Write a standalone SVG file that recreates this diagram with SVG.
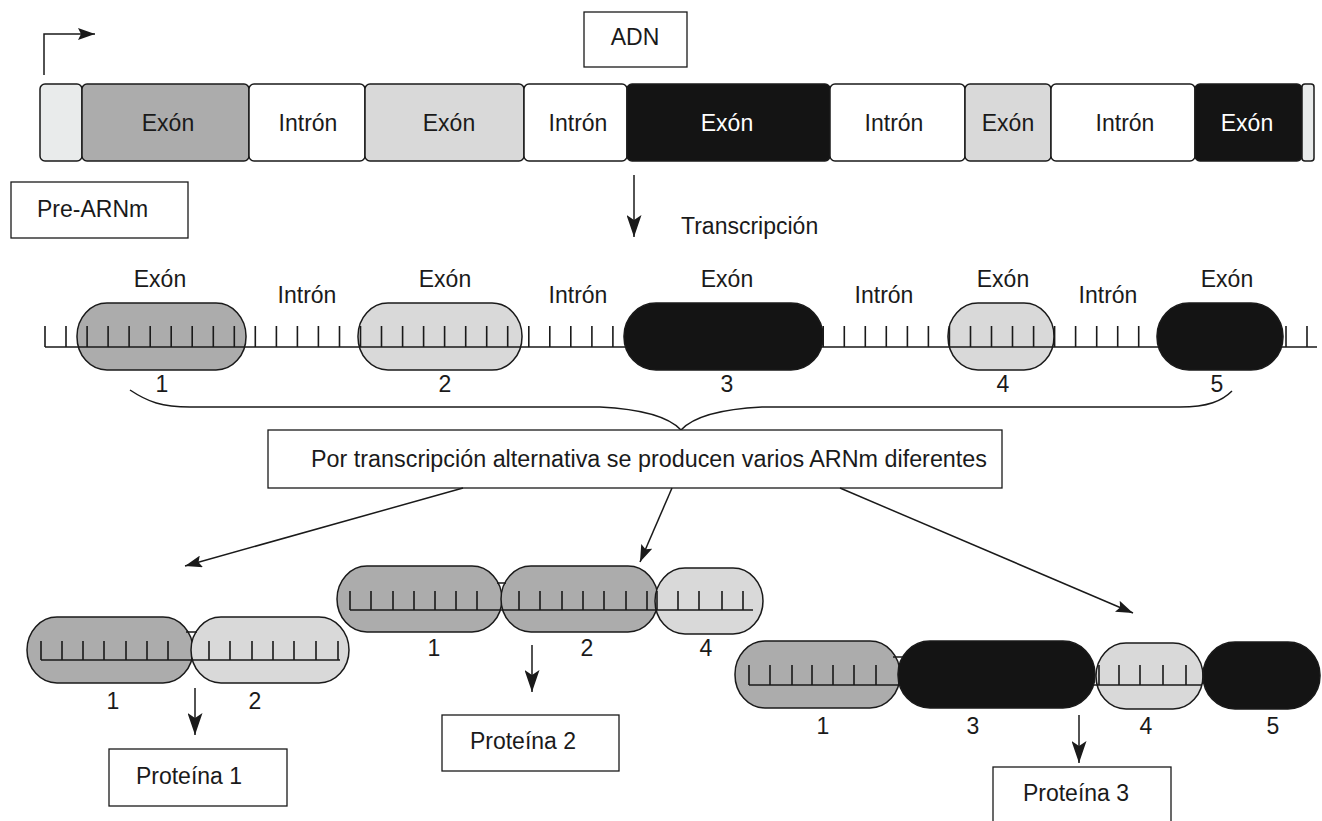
<svg xmlns="http://www.w3.org/2000/svg" width="1322" height="821" viewBox="0 0 1322 821">
<defs>
<style>
text{font-family:"Liberation Sans",Arial,sans-serif;font-size:23px;fill:#1a1a1a}
.w{fill:#ffffff}
.m{text-anchor:middle}
.seg{stroke:#1a1a1a;stroke-width:1.5}
.box{fill:#ffffff;stroke:#1a1a1a;stroke-width:1.3}
.cap{stroke:#1a1a1a;stroke-width:1.5}
.g1{fill:#acacac}
.g2{fill:#d9d9d9}
.bk{fill:#141414}
.wh{fill:#ffffff}
.pl{fill:#e9ebeb}
.tk{fill:none;stroke:#1a1a1a;stroke-width:1.6}
.ar{fill:none;stroke:#1a1a1a;stroke-width:1.5}
</style>
<marker id="ah" viewBox="0 0 22 15" markerWidth="22" markerHeight="15" refX="22" refY="7.5" orient="auto" markerUnits="userSpaceOnUse">
<path d="M0,0 L22,7.5 L0,15 L5,7.5 Z" fill="#1a1a1a"/>
</marker>
<marker id="ahs" viewBox="0 0 17 12" markerWidth="17" markerHeight="12" refX="17" refY="6" orient="auto" markerUnits="userSpaceOnUse">
<path d="M0,0 L17,6 L0,12 L3,6 Z" fill="#1a1a1a"/>
</marker>
</defs>
<rect width="1322" height="821" fill="#ffffff"/>

<g id="dna">
<rect class="seg pl" x="40" y="84" width="42" height="77" rx="5"/>
<rect class="seg g1" x="82" y="84" width="167" height="77" rx="5"/>
<rect class="seg wh" x="249" y="84" width="116" height="77" rx="5"/>
<rect class="seg g2" x="365" y="84" width="159" height="77" rx="5"/>
<rect class="seg wh" x="524" y="84" width="103" height="77" rx="5"/>
<rect class="seg bk" x="627" y="84" width="203" height="77" rx="5"/>
<rect class="seg wh" x="830" y="84" width="135" height="77" rx="5"/>
<rect class="seg g2" x="965" y="84" width="86" height="77" rx="5"/>
<rect class="seg wh" x="1051" y="84" width="144" height="77" rx="5"/>
<rect class="seg bk" x="1195" y="84" width="107" height="77" rx="5"/>
<rect class="seg pl" x="1302" y="84" width="12" height="77" rx="3"/>
<text class="m" x="168" y="131">Exón</text>
<text class="m" x="308" y="131">Intrón</text>
<text class="m" x="449" y="131">Exón</text>
<text class="m" x="578" y="131">Intrón</text>
<text class="m w" x="727" y="131">Exón</text>
<text class="m" x="894" y="131">Intrón</text>
<text class="m" x="1008" y="131">Exón</text>
<text class="m" x="1125" y="131">Intrón</text>
<text class="m w" x="1247" y="131">Exón</text>
</g>

<g id="adn-label">
<rect class="box" x="584" y="12" width="103" height="55"/>
<text class="m" x="635" y="45">ADN</text>
</g>

<g id="pre-arnm-label">
<rect class="box" x="11" y="182" width="177" height="56"/>
<text x="37" y="217">Pre-ARNm</text>
</g>

<g id="transcripcion-label">
<text x="681" y="234">Transcripción</text>
</g>

<g id="pre-mrna">
<rect class="cap g1" x="77" y="303" width="169" height="67" rx="30" ry="33"/>
<rect class="cap g2" x="358" y="303" width="164" height="67" rx="30" ry="33"/>
<rect class="cap g2" x="948" y="303" width="106" height="67" rx="30" ry="33"/>
<path class="tk" d="M45,347 H1317 M45,347V326 M66,347V326 M87.1,347V326 M108.1,347V326 M129.1,347V326 M150.2,347V326 M171.2,347V326 M192.2,347V326 M213.3,347V326 M234.3,347V326 M255.3,347V326 M276.4,347V326 M297.4,347V326 M318.4,347V326 M339.5,347V326 M360.5,347V326 M381.5,347V326 M402.6,347V326 M423.6,347V326 M444.6,347V326 M465.7,347V326 M486.7,347V326 M507.7,347V326 M528.8,347V326 M549.8,347V326 M570.8,347V326 M591.9,347V326 M612.9,347V326 M633.9,347V326 M655,347V326 M676,347V326 M697,347V326 M718.1,347V326 M739.1,347V326 M760.1,347V326 M781.2,347V326 M802.2,347V326 M823.2,347V326 M844.3,347V326 M865.3,347V326 M886.3,347V326 M907.4,347V326 M928.4,347V326 M949.4,347V326 M970.5,347V326 M991.5,347V326 M1012.5,347V326 M1033.6,347V326 M1054.6,347V326 M1075.6,347V326 M1096.7,347V326 M1117.7,347V326 M1138.7,347V326 M1159.8,347V326 M1180.8,347V326 M1201.8,347V326 M1222.9,347V326 M1243.9,347V326 M1264.9,347V326 M1286,347V326 M1307,347V326"/>
<rect class="cap bk" x="624" y="303" width="199" height="67" rx="32" ry="33"/>
<rect class="cap bk" x="1157" y="303" width="126" height="67" rx="32" ry="33"/>
<text class="m" x="160" y="287">Exón</text>
<text class="m" x="307" y="303">Intrón</text>
<text class="m" x="445" y="287">Exón</text>
<text class="m" x="578" y="303">Intrón</text>
<text class="m" x="727" y="287">Exón</text>
<text class="m" x="884" y="303">Intrón</text>
<text class="m" x="1003" y="287">Exón</text>
<text class="m" x="1108" y="303">Intrón</text>
<text class="m" x="1227" y="287">Exón</text>
<text class="m" x="162" y="392">1</text>
<text class="m" x="445" y="392">2</text>
<text class="m" x="727" y="392">3</text>
<text class="m" x="1003" y="392">4</text>
<text class="m" x="1217" y="392">5</text>
</g>

<g id="brace">
<path class="ar" d="M130,390 C148,402 162,407 190,407 L600,407 C640,409 668,416 681,430 C694,416 722,409 762,407 L1180,407 C1208,407 1222,401 1232,391"/>
</g>

<g id="splicing-label">
<rect class="box" x="268" y="430" width="734" height="58"/>
<text x="311" y="467" textLength="676" lengthAdjust="spacingAndGlyphs">Por transcripción alternativa se producen varios ARNm diferentes</text>
</g>

<g id="mrna1">
<rect class="cap g1" x="27" y="617" width="166" height="66" rx="30" ry="33"/>
<rect class="cap g2" x="191" y="617" width="158" height="66" rx="30" ry="33"/>
<path class="tk" d="M186,632 H197 M41,660 H340 M41,660V641 M62,660V641 M83,660V641 M104,660V641 M126,660V641 M147,660V641 M168,660V641 M209,660V641 M230,660V641 M252,660V641 M273,660V641 M294,660V641 M316,660V641 M338,660V641"/>
<text class="m" x="113" y="709">1</text>
<text class="m" x="255" y="709">2</text>
</g>

<g id="mrna2">
<rect class="cap g1" x="337" y="566" width="165" height="66" rx="30" ry="33"/>
<rect class="cap g1" x="501" y="566" width="157" height="66" rx="30" ry="33"/>
<rect class="cap g2" x="655" y="568" width="108" height="66" rx="30" ry="33"/>
<path class="tk" d="M497,583 H506 M350,610 H753 M350,610V591 M371,610V591 M393,610V591 M414,610V591 M435,610V591 M456,610V591 M477,610V591 M519,610V591 M540,610V591 M562,610V591 M583,610V591 M604,610V591 M626,610V591 M647,610V591 M657,610V591 M678,610V591 M699,610V591 M722,610V591 M743,610V591"/>
<text class="m" x="434" y="656">1</text>
<text class="m" x="587" y="656">2</text>
<text class="m" x="706" y="656">4</text>
</g>

<g id="mrna3">
<rect class="cap g1" x="735" y="641" width="165" height="67" rx="30" ry="33"/>
<rect class="cap g2" x="1096" y="643" width="107" height="66" rx="30" ry="33"/>
<path class="tk" d="M893,657 H905 M749,685 H1202 M749,685V665 M770,685V665 M792,685V665 M812,685V665 M833,685V665 M854,685V665 M876,685V665 M1099,685V665 M1119,685V665 M1140,685V665 M1163,685V665 M1186,685V665"/>
<rect class="cap bk" x="898" y="641" width="197" height="67" rx="32" ry="33"/>
<rect class="cap bk" x="1203" y="642" width="117" height="67" rx="32" ry="33"/>
<text class="m" x="823" y="734">1</text>
<text class="m" x="973" y="734">3</text>
<text class="m" x="1146" y="734">4</text>
<text class="m" x="1273" y="734">5</text>
</g>

<g id="proteina1">
<rect class="box" x="109" y="749" width="178" height="57"/>
<text class="m" x="189" y="784">Proteína 1</text>
</g>
<g id="proteina2">
<rect class="box" x="442" y="715" width="177" height="56"/>
<text class="m" x="523" y="749">Proteína 2</text>
</g>
<g id="proteina3">
<rect class="box" x="993" y="767" width="178" height="70"/>
<text class="m" x="1076" y="801">Proteína 3</text>
</g>

<g id="connectors">
<path class="ar" d="M44,75 V34 H95" marker-end="url(#ahs)"/>
<path class="ar" d="M634,175 V237" marker-end="url(#ah)"/>
<path class="ar" d="M463,488 L185,566" marker-end="url(#ahs)"/>
<path class="ar" d="M672,488 L640,562" marker-end="url(#ahs)"/>
<path class="ar" d="M840,488 L1133,613" marker-end="url(#ahs)"/>
<path class="ar" d="M195,688 V735" marker-end="url(#ah)"/>
<path class="ar" d="M532,645 V692" marker-end="url(#ah)"/>
<path class="ar" d="M1079,715 V763" marker-end="url(#ah)"/>
</g>
</svg>
